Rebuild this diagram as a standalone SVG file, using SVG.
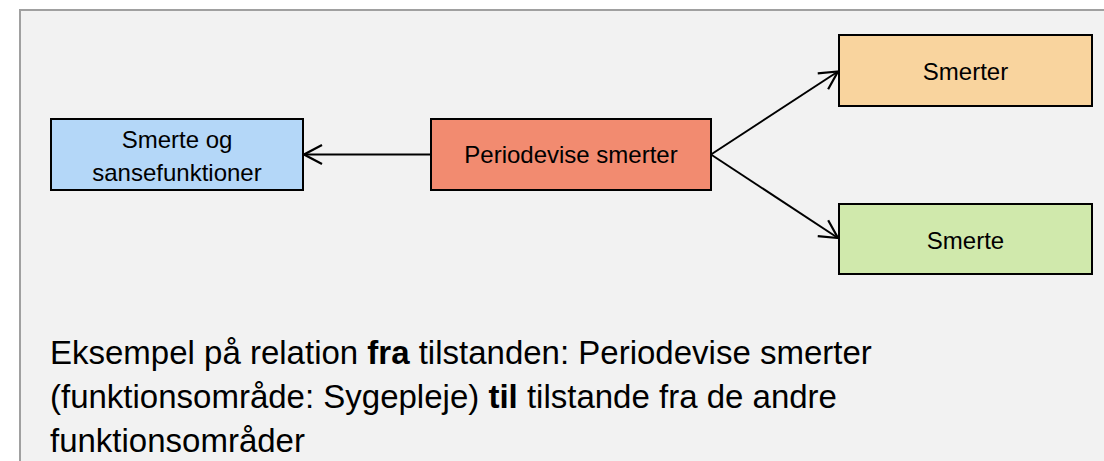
<svg xmlns="http://www.w3.org/2000/svg" width="1104" height="461" viewBox="0 0 1104 461">
<style>
.box{stroke:#000;stroke-width:2}
.lbl{font-family:"Liberation Sans",Arial,sans-serif;font-size:24px;fill:#000;text-anchor:middle}
.cap{font-family:"Liberation Sans",Arial,sans-serif;font-size:33px;fill:#000}
.conn{stroke:#000;stroke-width:2;fill:none;marker-end:url(#arr)}
</style>
<defs>
<marker id="arr" viewBox="0 0 22 22" refX="20" refY="11" markerWidth="22" markerHeight="22" markerUnits="userSpaceOnUse" orient="auto">
<path d="M2,1.5 L20,11 L2,20.5" fill="none" stroke="#000" stroke-width="2.2"/>
</marker>
</defs>
<rect x="0" y="0" width="1104" height="461" fill="#ffffff"/>
<rect x="20" y="10" width="1100" height="470" fill="#f2f2f2" stroke="#a0a0a0" stroke-width="2"/>
<g id="connectors">
<line class="conn" x1="431" y1="154.5" x2="304" y2="154.5"/>
<line class="conn" x1="711" y1="154.5" x2="838" y2="71.5"/>
<line class="conn" x1="711" y1="154.5" x2="838" y2="238"/>
</g>
<g id="node-blue">
<rect class="box" x="51" y="119" width="252" height="71" fill="#b4d7f8"/>
<text class="lbl" x="177" y="148">Smerte og</text>
<text class="lbl" x="177" y="181">sansefunktioner</text>
</g>
<g id="node-red">
<rect class="box" x="431" y="119" width="280" height="71" fill="#f28b70"/>
<text class="lbl" x="571" y="163">Periodevise smerter</text>
</g>
<g id="node-orange">
<rect class="box" x="839" y="35" width="253" height="71" fill="#f9d49e"/>
<text class="lbl" x="965.5" y="80">Smerter</text>
</g>
<g id="node-green">
<rect class="box" x="839" y="204" width="253" height="70" fill="#d0e9ac"/>
<text class="lbl" x="965.5" y="248.5">Smerte</text>
</g>
<g id="caption">
<text class="cap" x="50" y="364">Eksempel på relation <tspan font-weight="bold">fra</tspan> tilstanden: Periodevise smerter</text>
<text class="cap" x="50" y="408">(funktionsområde: Sygepleje) <tspan font-weight="bold">til</tspan> tilstande fra de andre</text>
<text class="cap" x="50" y="452">funktionsområder</text>
</g>
</svg>
